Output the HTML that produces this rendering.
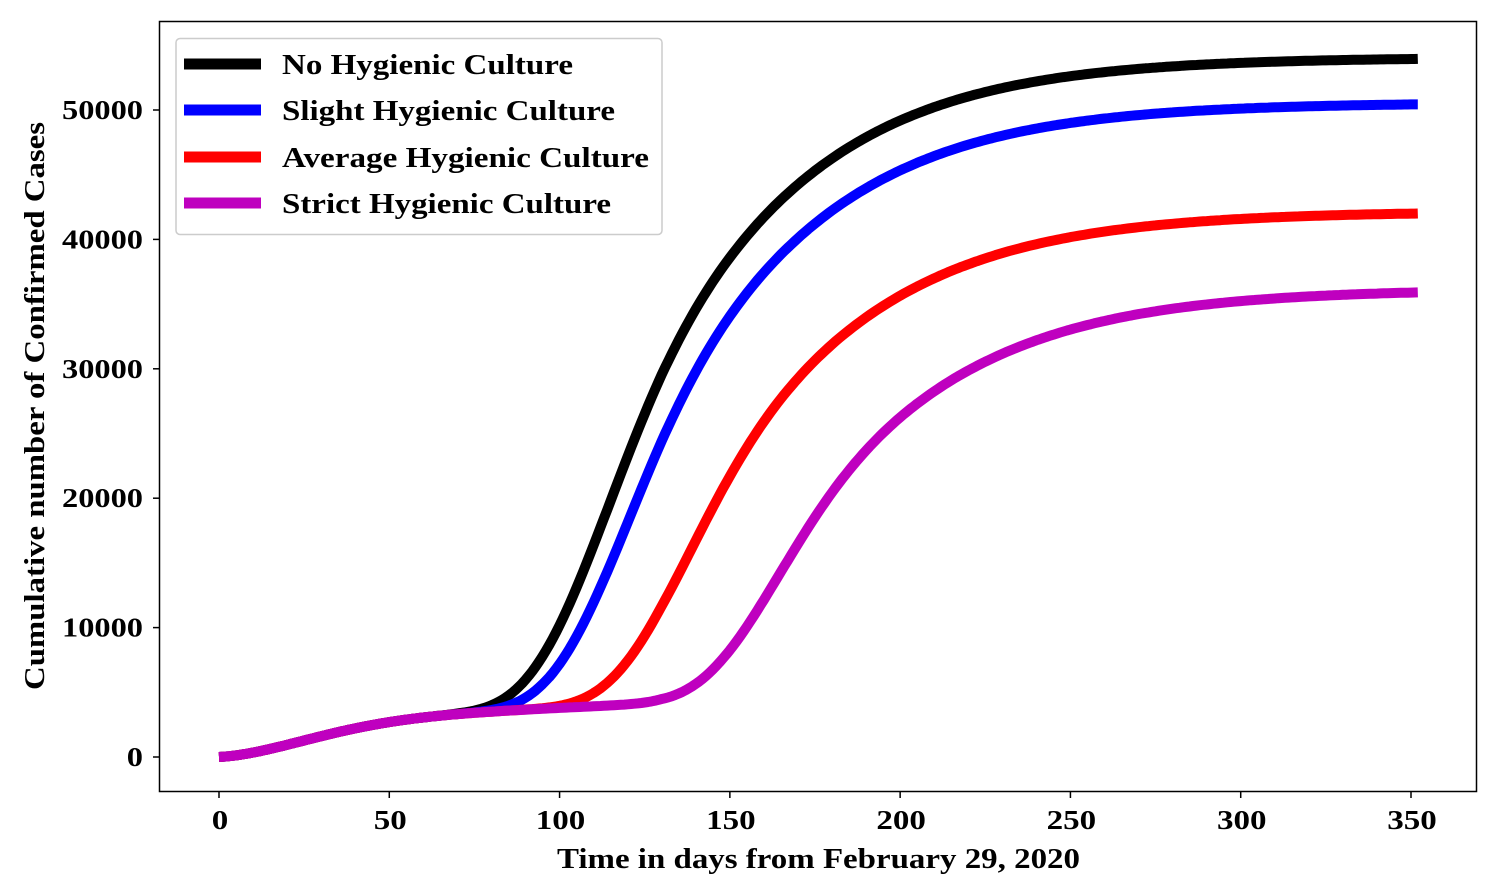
<!DOCTYPE html>
<html><head><meta charset="utf-8"><style>
html,body{margin:0;padding:0;background:#fff;}
svg text{font-family:"Liberation Serif",serif;font-weight:bold;fill:#000;}
</style></head><body>
<svg id="s" width="1500" height="891" xmlns="http://www.w3.org/2000/svg">
<rect x="0" y="0" width="1500" height="891" fill="#fff"/>
<g id="curves"></g>
<rect x="159.5" y="21.5" width="1317" height="770" fill="none" stroke="#000" stroke-width="1.5"/>
<g id="ticks" stroke="#000" stroke-width="1.5"></g>
<g font-size="27" text-anchor="middle" id="xl"></g>
<g font-size="27" text-anchor="end" id="yl"></g>
<text x="557" y="868" font-size="29" textLength="523" lengthAdjust="spacingAndGlyphs">Time in days from February 29, 2020</text>
<text transform="translate(44,690) rotate(-90)" font-size="29" textLength="568" lengthAdjust="spacingAndGlyphs">Cumulative number of Confirmed Cases</text>
<rect x="176" y="38.5" width="486" height="196" rx="4" fill="#fff" fill-opacity="0.9" stroke="#ccc" stroke-width="1.5"/>
<g stroke-width="11">
<line x1="184" y1="64" x2="261" y2="64" stroke="#000"/>
<line x1="184" y1="110" x2="261" y2="110" stroke="#0000ff"/>
<line x1="184" y1="157" x2="261" y2="157" stroke="#ff0000"/>
<line x1="184" y1="203" x2="261" y2="203" stroke="#bf00bf"/>
</g>
<g font-size="29">
<text x="282" y="74" textLength="291" lengthAdjust="spacingAndGlyphs">No Hygienic Culture</text>
<text x="282" y="120" textLength="333" lengthAdjust="spacingAndGlyphs">Slight Hygienic Culture</text>
<text x="282" y="167" textLength="367" lengthAdjust="spacingAndGlyphs">Average Hygienic Culture</text>
<text x="282" y="213" textLength="329" lengthAdjust="spacingAndGlyphs">Strict Hygienic Culture</text>
</g>
</svg>
<script>
var NS="http://www.w3.org/2000/svg";
function X(t){return 219+t*(1411-219)/350;}
function Y(v){return 757-v*(757-110)/50000;}
function base(t){return 2600*(1-Math.exp(-Math.pow(t/38,1.8)))+12*Math.min(t,130);}
// smooth slope of z: steep early, shallower later
function slope(u){return 0.025+0.016/(1+Math.exp((u-130)/12));}
var Z=[],T0=-100;
(function(){var acc=0;for(var i=0;i<=700;i++){Z.push(acc);acc+=slope(T0+i+0.5);}})();
var off=-0.72-Z[100-T0];
function z(t){var i=Math.floor(t-T0);if(i<0)return -10;if(i>=700)i=699;var f=t-T0-i;return off+Z[i]+(Z[i+1]-Z[i])*f;}
var series=[["#000000",49900,0],["#0000ff",46400,6],["#ff0000",38000,24],["#bf00bf",32000,50]];
var g=document.getElementById("curves");
series.forEach(function(s){
 var d="";
 for(var t=0;t<=352;t+=1){var v=base(t)+s[1]*Math.exp(-Math.exp(-z(t-s[2])));d+=(t?"L":"M")+X(t).toFixed(1)+","+Y(v).toFixed(1);}
 var p=document.createElementNS(NS,"path");p.setAttribute("d",d);p.setAttribute("fill","none");p.setAttribute("stroke",s[0]);p.setAttribute("stroke-width","10");p.setAttribute("stroke-linejoin","round");g.appendChild(p);
});
var tk=document.getElementById("ticks"),xl=document.getElementById("xl"),yl=document.getElementById("yl");
for(var t=0;t<=350;t+=50){var l=document.createElementNS(NS,"line");l.setAttribute("x1",X(t));l.setAttribute("x2",X(t));l.setAttribute("y1",792);l.setAttribute("y2",798);tk.appendChild(l);
 var tx=document.createElementNS(NS,"text");tx.setAttribute("x",X(t)+1);tx.setAttribute("y",829);var w=String(t).length*16.5;tx.setAttribute("textLength",w);tx.setAttribute("lengthAdjust","spacingAndGlyphs");tx.textContent=t;xl.appendChild(tx);}
for(var v=0;v<=50000;v+=10000){var l=document.createElementNS(NS,"line");l.setAttribute("x1",153);l.setAttribute("x2",159);l.setAttribute("y1",Y(v));l.setAttribute("y2",Y(v));tk.appendChild(l);
 var tx=document.createElementNS(NS,"text");tx.setAttribute("x",143);tx.setAttribute("y",Y(v)+9);var w=String(v).length*16.2;tx.setAttribute("textLength",w);tx.setAttribute("lengthAdjust","spacingAndGlyphs");tx.textContent=v;yl.appendChild(tx);}
</script>
</body></html>
